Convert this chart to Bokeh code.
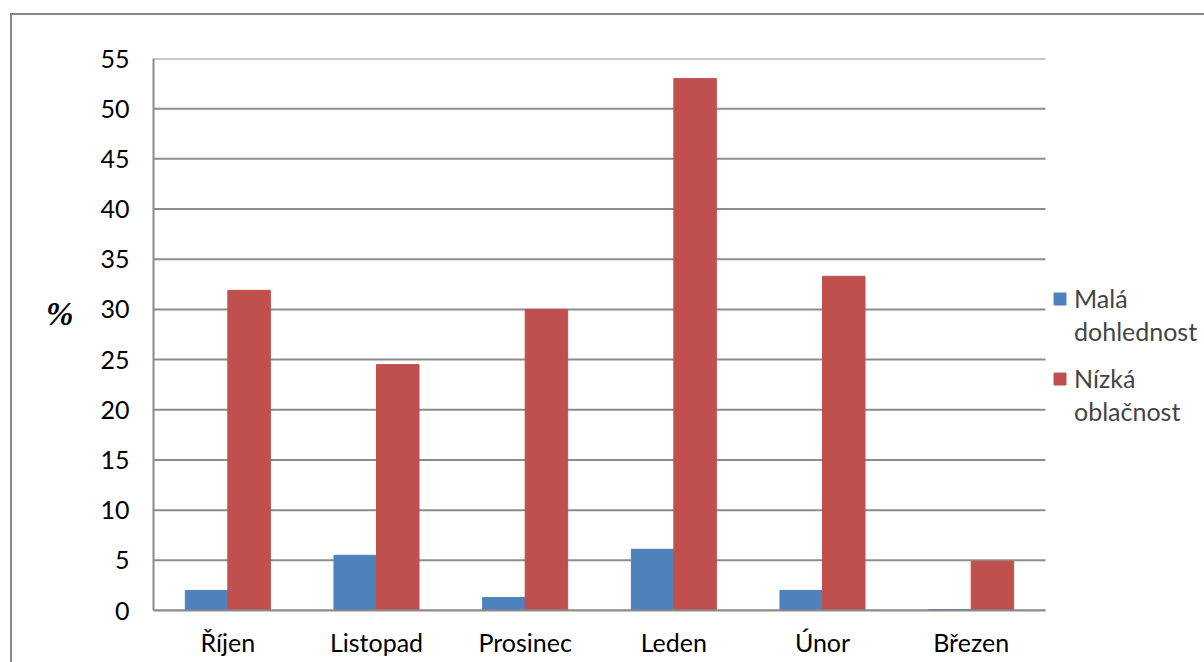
from bokeh.plotting import figure
from bokeh.models import FixedTicker, Legend, LegendItem, ColumnDataSource, Range1d
from bokeh.embed import file_html
from bokeh.resources import INLINE

months = ["Říjen", "Listopad", "Prosinec", "Leden", "Únor", "Březen"]
mala_dohlednost = [2.0, 5.5, 1.3, 6.1, 2.0, 0.1]
nizka_oblacnost = [31.9, 24.5, 30.0, 53.0, 33.3, 4.9]
y_ticks = list(range(0, 56, 5))
series_lines = [["Malá", "dohlednost"], ["Nízká", "oblačnost"]]

BLUE = "#4F81BD"
RED = "#C0504D"
GRID = "#8C8C8C"
FONT = "Lato"

n = len(months)
centers = [i + 0.5 for i in range(n)]
bw = 0.286
src = ColumnDataSource(dict(
    xb=[c - bw / 2 for c in centers], xr=[c + bw / 2 for c in centers],
    mala=mala_dohlednost, nizka=nizka_oblacnost))

# one category spans 892/6 px; frame runs on to the right edge for the legend
x_end = n * 1051 / 892
p = figure(x_range=Range1d(0, x_end), y_range=Range1d(0, 55),
           frame_width=1051, frame_height=552,
           min_border_left=141, min_border_right=0,
           min_border_top=43, min_border_bottom=52,
           output_backend="svg", toolbar_location=None)
p.margin = (13, 0, 0, 10)
p.styles = {"border-left": "2px solid #868686", "border-top": "2px solid #868686"}

# horizontal grid lines, only across the category area
grid_src = ColumnDataSource(dict(y=y_ticks, x0=[0] * len(y_ticks), x1=[n] * len(y_ticks)))
p.segment(x0="x0", x1="x1", y0="y", y1="y", source=grid_src,
          line_color=GRID, line_width=2)

r1 = p.vbar(x="xb", top="mala", width=bw, source=src,
            fill_color=BLUE, line_color=BLUE)
r2 = p.vbar(x="xr", top="nizka", width=bw, source=src,
            fill_color=RED, line_color=RED)
# invisible renderer used for the second line of each legend entry
blank = p.vbar(x=[], top=[], width=bw, fill_alpha=0, line_alpha=0)

p.outline_line_color = None
p.xgrid.grid_line_color = None
p.ygrid.grid_line_color = None

p.xaxis.ticker = FixedTicker(ticks=centers)
p.xaxis.major_label_overrides = {c: m for c, m in zip(centers, months)}
p.xaxis.bounds = (0, n)
p.yaxis.ticker = FixedTicker(ticks=y_ticks)
for ax in (p.xaxis[0], p.yaxis[0]):
    ax.axis_line_color = GRID
    ax.axis_line_width = 2
    ax.major_tick_line_color = None
    ax.minor_tick_line_color = None
    ax.major_label_text_font = FONT
    ax.major_label_text_font_size = "25px"
    ax.major_label_text_color = "black"
p.yaxis.major_label_standoff = 18
p.xaxis.major_label_standoff = 10

p.yaxis.axis_label = "%\n "
p.yaxis.axis_label_orientation = "horizontal"
p.yaxis.axis_label_text_font = "Liberation Serif"
p.yaxis.axis_label_text_font_style = "bold italic"
p.yaxis.axis_label_text_font_size = "33px"
p.yaxis.axis_label_text_color = "black"
p.yaxis.axis_label_text_line_height = 1.15
p.yaxis.axis_label_standoff = 24

for rend, lines, ypos in ((r1, series_lines[0], 264), (r2, series_lines[1], 184)):
    lg = Legend(items=[LegendItem(label=lines[0], renderers=[rend]),
                       LegendItem(label=lines[1], renderers=[blank])],
                location=(899, ypos), orientation="vertical")
    lg.label_text_font = FONT
    lg.label_text_font_size = "25px"
    lg.label_height = 30
    lg.glyph_width = 15
    lg.glyph_height = 15
    lg.spacing = 3
    lg.padding = 0
    lg.margin = 0
    lg.label_standoff = 7
    lg.border_line_color = None
    lg.background_fill_alpha = 0
    p.add_layout(lg)

open("out.html", "w").write(file_html(p, INLINE))
